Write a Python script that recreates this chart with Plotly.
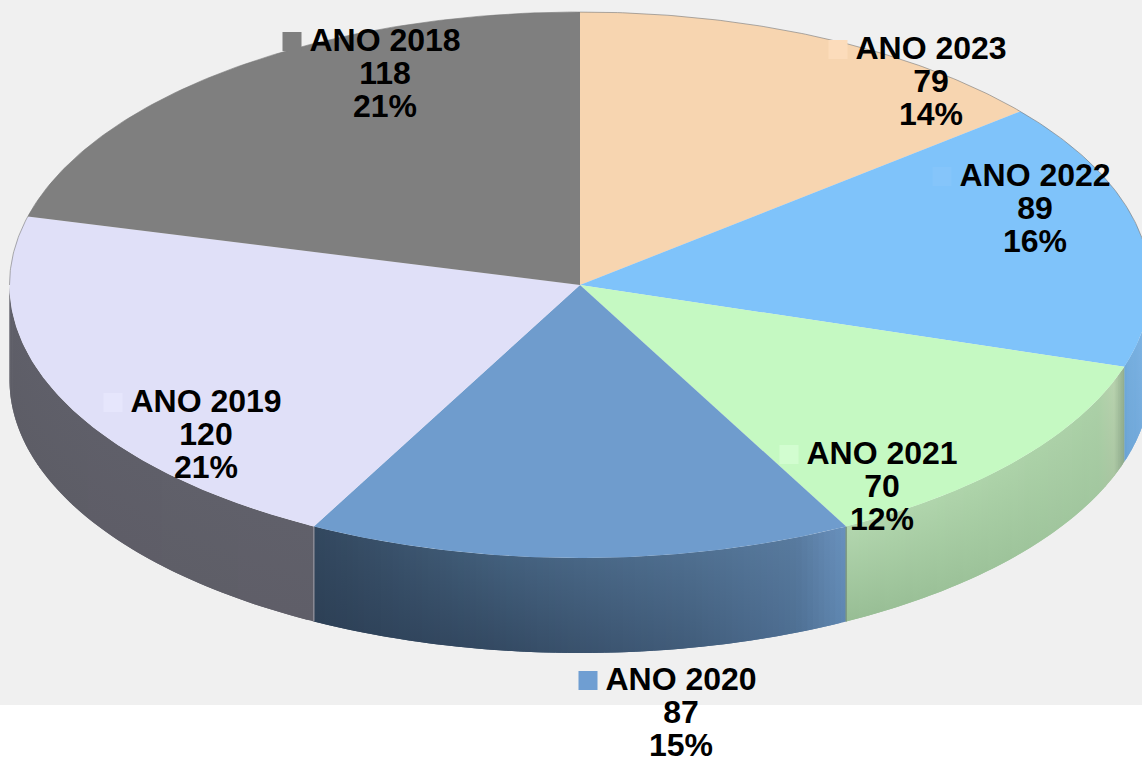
import numpy as np
import plotly.graph_objects as go

years = ["ANO 2023", "ANO 2022", "ANO 2021", "ANO 2020", "ANO 2019", "ANO 2018"]
values = [79, 89, 70, 87, 120, 118]
percents = ["14%", "16%", "12%", "15%", "21%", "21%"]
top_colors = ["#f7d5b0", "#7fc3fa", "#c5f9c2", "#6f9ccd", "#e0e0f8", "#7f7f7f"]
swatch_colors = ["#fcdcbb", "#85c5fa", "#d2fdd0", "#6f9ed2", "#e6e6fc", "#7f7f7f"]
label_x = [931, 1035, 882, 681, 206, 385]
label_y = [51, 178, 456, 682, 404, 43]
swatch_x = [838, 942, 789, 588, 113, 292]

CX, CY, RX, RY, DEPTH = 580.0, 285.0, 570.5, 273.0, 95.0
total = sum(values)
edges = np.cumsum([0] + values) / total * 360.0

# wall shading: stops across the wall (0 = left, 1 = right), colour at rim and at foot
wall_shade = {
    1: ([0, 1], ["#6fa9da", "#78b2e6"], ["#6aa3d4", "#72abe0"]),
    2: ([0, 0.55, 0.9, 0.96, 1],
        ["#b3d7af", "#add3a9", "#abd0a7", "#b8d2ae", "#8eab8b"],
        ["#97bd94", "#9dc39a", "#a2c79f", "#aac6a2", "#8aa688"]),
    3: ([0, 0.35, 0.7, 0.9, 0.96, 1],
        ["#33485f", "#43607d", "#4f6f90", "#587a9e", "#6389b3", "#6a93bf"],
        ["#2d4056", "#344a63", "#415c7a", "#4e6f93", "#5a7fa6", "#6089b5"]),
    4: ([0, 1], ["#5f5f69", "#60606a"], ["#5d5d66", "#5f5e68"]),
}


def arc(a0, a1, dy=0.0, n=None):
    n = n or max(int(abs(a1 - a0) * 2), 2)
    t = np.radians(np.linspace(a0, a1, n))
    return CX + RX * np.sin(t), CY - RY * np.cos(t) + dy


def rgb(h):
    return [int(h[k:k + 2], 16) for k in (1, 3, 5)]


def mix(stops, cols, u):
    c = [np.interp(u, stops, [rgb(h)[k] for h in cols]) for k in range(3)]
    return "rgb(%d,%d,%d)" % tuple(round(v) for v in c)


fig = go.Figure()

# side walls, built as narrow overlapping strips so the shading varies along and down the wall
for i, (stops, rim, foot) in wall_shade.items():
    a0, a1 = max(edges[i], 90.0), min(edges[i + 1], 270.0)
    n = 90
    grid = np.linspace(a0, a1, n + 1)
    xall = CX + RX * np.sin(np.radians(grid))
    xmin, xmax = xall.min(), xall.max()
    for j in range(n):
        g0, g1 = grid[j], min(grid[j + 1] + (a1 - a0) / n, a1)
        x1, y1 = arc(g0, g1, n=6)
        x2, y2 = arc(g0, g1, DEPTH, n=6)
        u = (0.5 * (x1[0] + x1[-1]) - xmin) / (xmax - xmin)
        fig.add_trace(go.Scatter(
            x=np.r_[x1, x2[::-1], x1[0]], y=np.r_[y1, y2[::-1], y1[0]],
            mode="lines", line=dict(width=0), fill="toself",
            fillgradient=dict(type="vertical", colorscale=[[0, mix(stops, foot, u)], [1, mix(stops, rim, u)]]),
            hoverinfo="skip", showlegend=False))

# wall seams
for i, c in [(3, "#7f9a80"), (4, "#8a8a94")]:
    x, y = arc(edges[i], edges[i], 0)
    fig.add_trace(go.Scatter(x=[x[0], x[0]], y=[y[0], y[0] + DEPTH], mode="lines",
                             line=dict(color=c, width=1.5), hoverinfo="skip", showlegend=False))

# top face
for i in range(len(values)):
    x, y = arc(edges[i], edges[i + 1])
    fig.add_trace(go.Scatter(
        x=np.r_[CX, x, CX], y=np.r_[CY, y, CY], mode="lines",
        line=dict(width=0), fill="toself", fillcolor=top_colors[i],
        hoverinfo="skip", showlegend=False))

# hairline on the back rim
x, y = arc(-90, 90)
fig.add_trace(go.Scatter(x=x, y=y, mode="lines", line=dict(color="rgba(120,120,120,0.6)", width=1),
                         hoverinfo="skip", showlegend=False))

# legend keys
fig.add_trace(go.Scatter(
    x=swatch_x, y=[v - 1.5 for v in label_y], mode="markers",
    marker=dict(symbol="square", size=19, color=swatch_colors, line=dict(width=0)),
    hoverinfo="skip", showlegend=False))

# labels
for i in range(len(values)):
    lines = [years[i], str(values[i]), percents[i]]
    fig.add_trace(go.Scatter(
        x=[label_x[i] for k in range(3)],
        y=[label_y[i] + k * 33 for k in range(3)],
        mode="text", text=lines, textposition="middle center",
        textfont=dict(family="Liberation Sans", size=32, color="#000000", weight="bold"),
        cliponaxis=False, hoverinfo="skip", showlegend=False))

fig.update_layout(
    width=1142, height=760, margin=dict(l=0, r=0, t=0, b=0),
    paper_bgcolor="#ffffff", plot_bgcolor="#ffffff", showlegend=False,
    xaxis=dict(range=[0, 1142], visible=False, fixedrange=True),
    yaxis=dict(range=[760, 0], visible=False, fixedrange=True),
    shapes=[dict(type="rect", xref="x", yref="y", x0=0, x1=1142, y0=0, y1=705,
                 fillcolor="#f0f0f0", line=dict(width=0), layer="below")],
)
fig.write_html("out.html", config={"displayModeBar": False},
               post_script="document.body.style.margin='0';document.body.style.overflow='hidden';")
